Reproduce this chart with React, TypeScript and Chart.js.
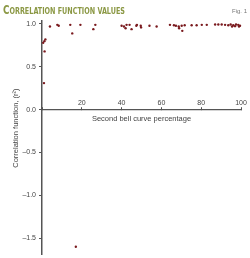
import React, { useEffect, useRef } from "react";
import { Chart, registerables } from "chart.js";

Chart.register(...registerables);

const titleText = "CORRELATION FUNCTION VALUES";
const figLabel = "Fig. 1";
const xTitle = "Second bell curve percentage";
const yTitle = "Correlation function, (r\u00B2)";

const xTicks = [0, 20, 40, 60, 80, 100];
const yTicks = [1.0, 0.5, 0.0, -0.5, -1.0, -1.5];

const xValues = [
  0.6, 1.2, 1.7, 1.3, 1.0, 4, 7.7, 8.4, 14.2, 15.2, 19.3, 25.8, 26.8, 17,
  40, 41.2, 42, 42.5, 44, 45, 47.4, 47.7, 49.6, 49.8, 54, 57.6, 64.3, 66.3,
  67.3, 68.7, 68.9, 70.2, 70.5, 71.7, 75.2, 77.7, 80.3, 82.8, 87, 88.6, 90.3,
  92, 93.6, 94.8, 95.5, 96.1, 97, 97.5, 98.6, 99, 99.5,
];
const yValues = [
  0.78, 0.8, 0.82, 0.68, 0.31, 0.97, 0.99, 0.98, 0.99, 0.89, 0.99, 0.94, 0.99, -1.6,
  0.98, 0.97, 0.95, 0.99, 0.99, 0.94, 0.98, 0.99, 0.98, 0.96, 0.98, 0.97, 0.99, 0.985,
  0.98, 0.97, 0.95, 0.98, 0.92, 0.985, 0.985, 0.985, 0.99, 0.99, 0.995, 0.995, 0.995,
  0.99, 0.985, 0.995, 0.97, 0.985, 0.975, 0.995, 0.99, 0.97, 0.98,
];

const FONT = "'Liberation Sans', Arial, sans-serif";
const AXIS = "#555555";
const TEXT = "#444444";

const headerPlugin = {
  id: "header",
  afterDraw(chart: any) {
    const ctx = chart.ctx as CanvasRenderingContext2D;
    ctx.save();
    ctx.fillStyle = "#8b9844";
    ctx.textBaseline = "alphabetic";
    const fam = "'Liberation Sans Narrow', 'DejaVu Sans Condensed', 'Liberation Sans', sans-serif";
    const first = titleText.slice(0, 1);
    const rest = titleText.slice(1);
    ctx.font = `bold 13px ${fam}`;
    const w1 = ctx.measureText(first).width;
    ctx.font = `bold 9.5px ${fam}`;
    const w2 = ctx.measureText(rest).width;
    const target = 122;
    const s = target / (w1 + w2);
    ctx.translate(3, 13.5);
    ctx.scale(s, 1);
    ctx.font = `bold 13px ${fam}`;
    ctx.fillText(first, 0, 0);
    ctx.font = `bold 9.5px ${fam}`;
    ctx.fillText(rest, w1, 0);
    ctx.restore();

    ctx.save();
    ctx.fillStyle = "#777777";
    ctx.font = `6px ${FONT}`;
    ctx.textAlign = "right";
    ctx.textBaseline = "middle";
    ctx.fillText(figLabel, 247, 11);
    ctx.restore();
  },
};

export default function App() {
  const ref = useRef<HTMLCanvasElement>(null);
  useEffect(() => {
    document.body.style.margin = "0";
    const points = xValues.map((x, i) => ({ x, y: yValues[i] }));
    const chart = new Chart(ref.current!, {
      type: "scatter",
      data: {
        datasets: [
          {
            data: points,
            backgroundColor: "#7a1a1e",
            borderColor: "#7a1a1e",
            pointRadius: 1.2,
            borderWidth: 0,
            clip: false,
          },
        ],
      },
      options: {
        animation: false,
        responsive: false,
        layout: { padding: { top: 21, right: 9, left: 0, bottom: 0 } },
        plugins: { legend: { display: false }, tooltip: { enabled: false }, title: { display: false } },
        scales: {
          x: {
            type: "linear",
            position: { y: 0 } as any,
            min: 0,
            max: 100,
            afterBuildTicks: (s: any) => {
              s.ticks = xTicks.map((v) => ({ value: v }));
            },
            afterFit: (s: any) => {
              s.height = 0;
              s.paddingTop = 0;
              s.paddingBottom = 0;
              s.paddingLeft = 0;
              s.paddingRight = 0;
            },
            ticks: {
              color: TEXT,
              font: { family: FONT, size: 7 },
              padding: -8.2,
              maxRotation: 0,
              autoSkip: false,
              callback: (v: any) => (v === 0 ? "" : String(v)),
            },
            grid: { drawOnChartArea: false, drawTicks: true, tickLength: -3, color: AXIS, lineWidth: 1 },
            border: { display: true, color: AXIS, width: 1.2 },
            title: {
              display: true,
              text: xTitle,
              color: TEXT,
              font: { family: FONT, size: 7.5 },
              padding: { top: 0, bottom: -13.5 },
            },
          },
          y: {
            type: "linear",
            position: "left",
            min: -1.685,
            max: 1.035,
            afterBuildTicks: (s: any) => {
              s.ticks = yTicks.map((v) => ({ value: v }));
            },
            afterFit: (s: any) => {
              s.width = 42;
              s.paddingTop = 0;
              s.paddingBottom = 0;
              s.paddingLeft = 0;
              s.paddingRight = 0;
            },
            ticks: {
              color: TEXT,
              font: { family: FONT, size: 7 },
              padding: 3,
              callback: (v: any) => Number(v).toFixed(1).replace("-", "\u2013"),
            },
            grid: { drawOnChartArea: false, drawTicks: true, tickLength: 3, color: AXIS, lineWidth: 1 },
            border: { display: true, color: AXIS, width: 1.5 },
            title: {
              display: true,
              text: "         " + yTitle,
              color: TEXT,
              font: { family: FONT, size: 7.5 },
              padding: { top: 11, bottom: 0 },
            },
          },
        },
      },
      plugins: [headerPlugin],
    });
    return () => chart.destroy();
  }, []);
  return (
    <div style={{ width: 250, height: 258 }}>
      <canvas ref={ref} width={250} height={258} />
    </div>
  );
}
